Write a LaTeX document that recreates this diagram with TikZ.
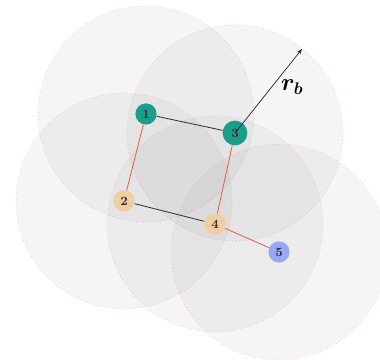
\documentclass[tikz,border=0pt]{standalone}
\usepackage{xcolor}
\usetikzlibrary{arrows.meta,backgrounds}
\definecolor{bsteal}{HTML}{1A9E8A}
\definecolor{bstan}{HTML}{F0CDA2}
\definecolor{bsblue}{HTML}{9AA6F6}
\definecolor{bsred}{HTML}{E8604C}
\tikzset{
  bs node/.style={
    circle,
    minimum size=5.3mm,
    inner sep=0pt,
    font=\bfseries\small,
    text=black!80,
  },
  bs teal/.style={bs node, fill=bsteal},
  bs tan/.style={bs node, fill=bstan},
  bs blue/.style={bs node, fill=bsblue},
  bs range/.style={
    draw=red!40,
    draw opacity=0.6,
    dotted,
    line width=0.5pt,
    fill=gray,
    fill opacity=0.08,
  },
  bs link/.style={line width=0.6pt, draw=black!80},
  bs hop/.style={line width=0.6pt, draw=bsred},
  bs arrow/.style={-{Stealth[length=4pt]}, line width=0.5pt, draw=black!85},
  bs label/.style={font=\LARGE\boldmath},
}

\begin{document}
\begin{tikzpicture}[x=0.25mm, y=-0.25mm]
  \useasboundingbox (0,0) rectangle (380,360);

  \node[bs teal] (n1) at (146,114) {1};
  \node[bs teal, minimum size=6.2mm] (n3) at (235,133) {3};
  \node[bs tan] (n2) at (124,201) {2};
  \node[bs tan] (n4) at (215,224) {4};
  \node[bs blue] (n5) at (279,252) {5};
  \coordinate (rbend) at (302,49);

  % communication ranges
  \begin{scope}[on background layer]
    \foreach \n in {n1,n3,n2,n4,n5}
      \draw[bs range] (\n.center) circle (27mm);
  \end{scope}

  \draw[bs link] (n1) -- (n3);
  \draw[bs link] (n2) -- (n4);
  \draw[bs hop] (n1) -- (n2);
  \draw[bs hop] (n3) -- (n4);
  \draw[bs hop] (n4) -- (n5);

  \draw[bs arrow] (n3.center) -- (rbend)
    node[bs label, pos=0.55, right=3pt] (rblabel) {$r_b$};
\end{tikzpicture}
\end{document}
